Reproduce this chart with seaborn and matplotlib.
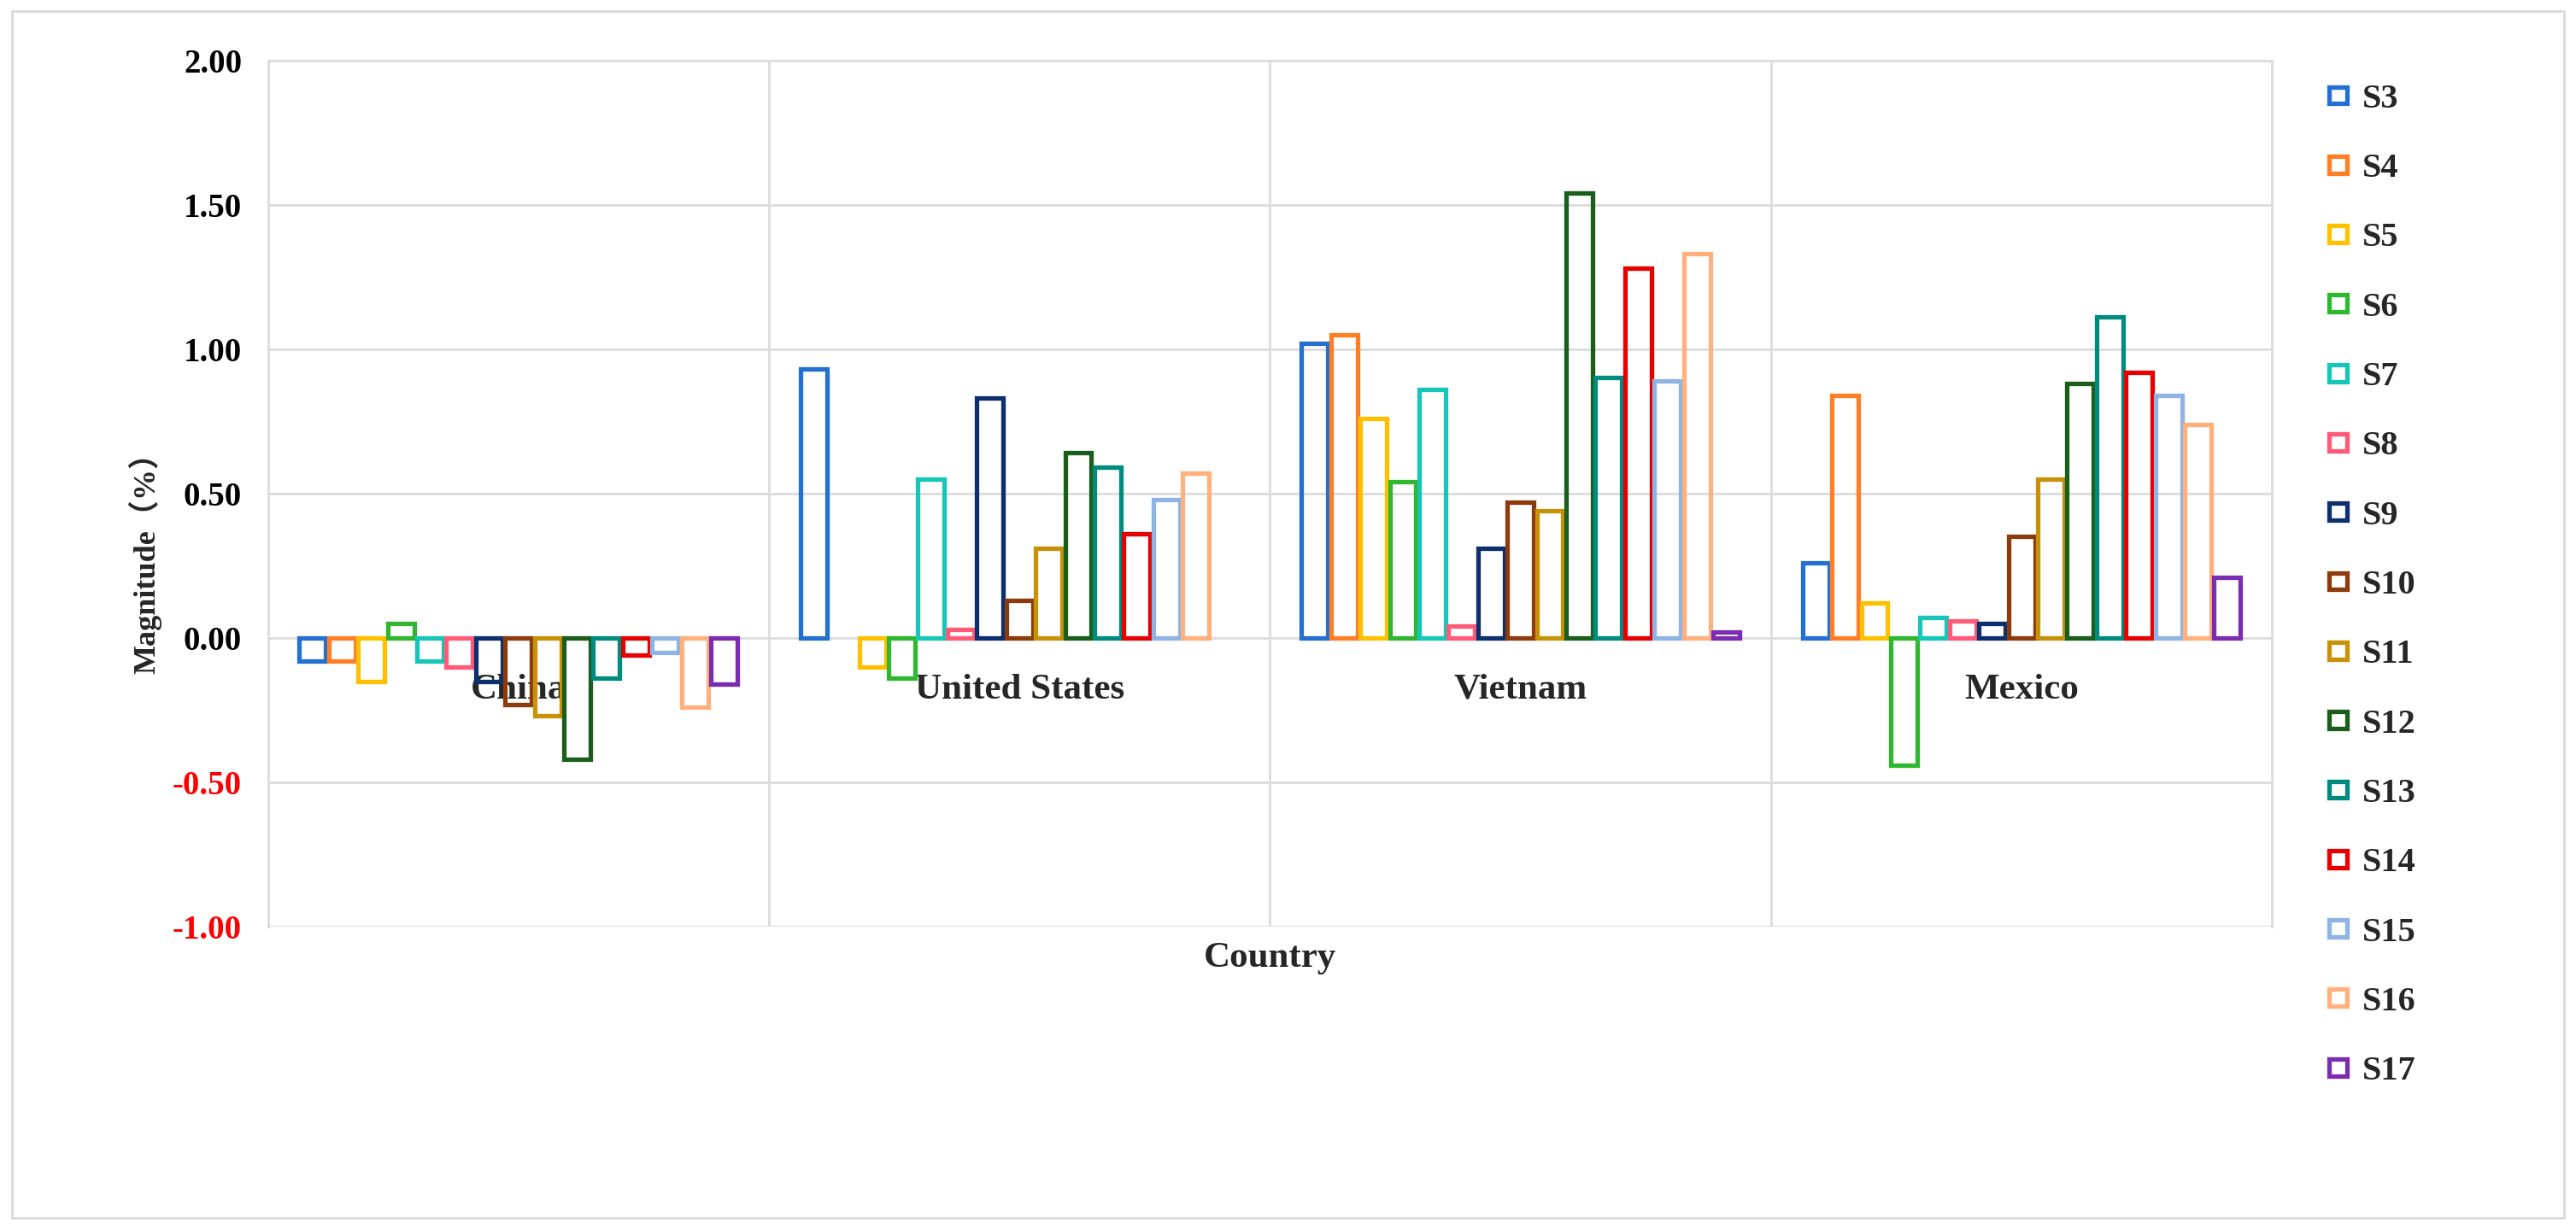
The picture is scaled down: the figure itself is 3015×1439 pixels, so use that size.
import matplotlib
matplotlib.use("Agg")
import matplotlib.pyplot as plt
import matplotlib.patches as mpatches
from matplotlib.ticker import FixedLocator, FormatStrFormatter
import numpy as np
import pandas as pd
import seaborn as sns

countries = ["China", "United States", "Vietnam", "Mexico"]
series = ["S3", "S4", "S5", "S6", "S7", "S8", "S9", "S10",
          "S11", "S12", "S13", "S14", "S15", "S16", "S17"]

# magnitude (%) per country, in the order of `series` (nan = no bar shown)
china = [-0.08, -0.08, -0.15, 0.05, -0.08, -0.10, -0.15, -0.23,
         -0.27, -0.42, -0.14, -0.06, -0.05, -0.24, -0.16]
united_states = [0.93, np.nan, -0.10, -0.14, 0.55, 0.03, 0.83, 0.13,
                 0.31, 0.64, 0.59, 0.36, 0.48, 0.57, np.nan]
vietnam = [1.02, 1.05, 0.76, 0.54, 0.86, 0.04, 0.31, 0.47,
           0.44, 1.54, 0.90, 1.28, 0.89, 1.33, 0.02]
mexico = [0.26, 0.84, 0.12, -0.44, 0.07, 0.06, 0.05, 0.35,
          0.55, 0.88, 1.11, 0.92, 0.84, 0.74, 0.21]

colors = ["#2470d0", "#ff7f27", "#ffc000", "#2fb82f", "#17c6b8",
          "#ff5a78", "#0d2f6e", "#8c3b0c", "#c89208", "#1b5e1b",
          "#008b7f", "#e60000", "#8db4e2", "#ffb07c", "#7a2db0"]

rows = []
for country, vals in zip(countries, [china, united_states, vietnam, mexico]):
    for s, v in zip(series, vals):
        rows.append({"Country": country, "Scenario": s, "Magnitude": v})
df = pd.DataFrame(rows)

sns.set_style("white")
plt.rcParams["font.family"] = ["Liberation Serif", "Noto Sans CJK SC", "DejaVu Sans"]
plt.rcParams["font.weight"] = "bold"

fig = plt.figure(figsize=(30.15, 14.39), dpi=100)
ax = fig.add_axes([0.104, 0.246, 0.778, 0.705])

sns.barplot(data=df, x="Country", y="Magnitude", hue="Scenario",
            order=countries, hue_order=series, palette=colors,
            fill=False, linewidth=3.8, width=0.88, gap=0.1,
            errorbar=None, legend=False, ax=ax)

grid_c = "#dcdcdc"
ax.set_ylim(-1.0, 2.0)
ax.set_xlim(-0.5, 3.5)
ax.yaxis.set_major_locator(FixedLocator([-1.0, -0.5, 0.0, 0.5, 1.0, 1.5, 2.0]))
ax.yaxis.set_major_formatter(FormatStrFormatter("%.2f"))
ax.set_axisbelow(True)
ax.grid(axis="y", color=grid_c, linewidth=2)
ax.xaxis.set_minor_locator(FixedLocator([0.5, 1.5, 2.5]))
ax.grid(axis="x", which="minor", color=grid_c, linewidth=2)
ax.grid(axis="x", which="major", visible=False)

for side in ["left", "right", "top"]:
    ax.spines[side].set_color(grid_c)
    ax.spines[side].set_linewidth(2)
ax.spines["bottom"].set_position(("data", 0))
ax.spines["bottom"].set_visible(False)
ax.axhline(-1.0, color=grid_c, linewidth=2, zorder=0)

ax.tick_params(axis="both", which="both", length=0)
ax.tick_params(axis="x", labelsize=31, pad=30)
ax.tick_params(axis="y", labelsize=28, pad=22)
for lab in ax.get_xticklabels():
    lab.set_fontweight("bold")
for lab, val in zip(ax.get_yticklabels(), ax.get_yticks()):
    lab.set_fontweight("bold")
    lab.set_color("red" if val < 0 else "black")

ax.set_xlabel("Country", fontsize=31, fontweight="bold")
ax.xaxis.set_label_coords(0.5, -0.018)
ax.set_ylabel("Magnitude（%）", fontsize=26, fontweight="bold")
ax.yaxis.set_label_coords(-0.053, 0.428)

handles = [mpatches.Patch(facecolor="white", edgecolor=c, linewidth=3.8, label=s)
           for s, c in zip(series, colors)]
ax.legend(handles=handles, loc="upper left", bbox_to_anchor=(0.904, 0.932),
          bbox_transform=fig.transFigure, frameon=False,
          prop={"size": 29, "weight": "bold"}, handlelength=0.53,
          handleheight=0.38, handletextpad=0.45, labelspacing=1.1,
          borderpad=0, borderaxespad=0)

fig.patches.append(mpatches.Rectangle((0.0045, 0.009), 0.991, 0.982,
                                      transform=fig.transFigure, fill=False,
                                      edgecolor="#d9d9d9", linewidth=2))

fig.savefig("out.png", dpi=100)
